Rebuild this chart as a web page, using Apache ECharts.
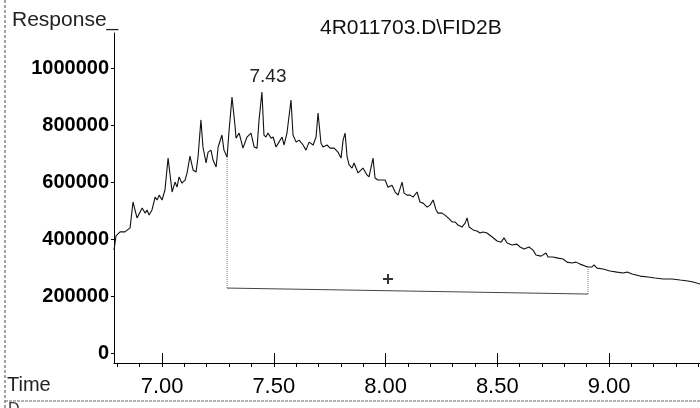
<!DOCTYPE html>
<html>
<head>
<meta charset="utf-8">
<script src="https://cdn.jsdelivr.net/npm/echarts@6/dist/echarts.min.js"></script>
<style>html,body{margin:0;padding:0;background:#fff}#c{width:700px;height:408px}</style>
</head>
<body>
<div id="c"></div>
<script>
// Retention time (min)
const times = [6.785,6.794,6.812,6.834,6.857,6.870,6.888,6.893,6.911,6.924,6.933,6.942,6.955,6.969,6.978,6.987,7.000,7.013,7.027,7.045,7.058,7.067,7.076,7.089,7.103,7.112,7.125,7.139,7.152,7.161,7.174,7.183,7.197,7.206,7.219,7.228,7.242,7.251,7.268,7.277,7.291,7.300,7.313,7.327,7.331,7.345,7.362,7.380,7.398,7.412,7.425,7.434,7.447,7.456,7.465,7.474,7.488,7.497,7.510,7.523,7.537,7.546,7.559,7.577,7.586,7.600,7.613,7.631,7.644,7.658,7.676,7.689,7.698,7.711,7.720,7.738,7.752,7.770,7.787,7.801,7.810,7.819,7.828,7.837,7.850,7.859,7.877,7.899,7.917,7.926,7.944,7.953,7.966,7.984,7.998,8.011,8.029,8.043,8.056,8.074,8.083,8.096,8.110,8.123,8.141,8.154,8.168,8.186,8.199,8.213,8.226,8.235,8.253,8.266,8.280,8.298,8.311,8.324,8.342,8.356,8.365,8.374,8.392,8.409,8.423,8.436,8.454,8.477,8.499,8.517,8.530,8.544,8.566,8.588,8.602,8.620,8.642,8.660,8.673,8.696,8.718,8.727,8.749,8.772,8.794,8.812,8.834,8.852,8.870,8.893,8.906,8.924,8.933,8.946,8.973,9.004,9.036,9.063,9.081,9.103,9.139,9.174,9.206,9.242,9.282,9.318,9.353,9.376,9.407];
// Detector response
const response = [361000,411000,425000,425000,439000,530000,474000,467000,509000,491000,502000,484000,502000,547000,537000,554000,537000,572000,684000,565000,600000,582000,618000,596000,607000,632000,691000,642000,635000,688000,818000,723000,667000,705000,712000,677000,653000,723000,765000,712000,688000,782000,898000,793000,754000,772000,719000,758000,772000,723000,719000,818000,916000,765000,758000,772000,754000,758000,723000,740000,758000,730000,772000,888000,765000,740000,747000,730000,712000,740000,730000,758000,842000,737000,723000,730000,719000,719000,705000,684000,747000,772000,688000,660000,649000,667000,632000,649000,625000,618000,684000,614000,607000,607000,607000,582000,589000,565000,554000,600000,561000,554000,554000,547000,565000,530000,526000,512000,519000,537000,502000,491000,491000,484000,474000,460000,460000,449000,442000,456000,474000,442000,432000,428000,421000,425000,421000,407000,393000,389000,404000,386000,379000,382000,372000,365000,372000,361000,344000,340000,351000,337000,337000,333000,330000,319000,316000,319000,312000,305000,302000,302000,309000,298000,295000,288000,284000,281000,284000,277000,270000,267000,263000,260000,260000,256000,253000,249000,242000];

// Integration baseline (drop lines + baseline)
const baseStart = [7.291, 688000];
const baseStartLow = [7.291, 228000];
const baseEndLow = [8.906, 207000];
const baseEnd = [8.906, 302000];

// Peak annotation
const peakTime = 7.447;
const peakValue = 916000;
const peakText = '7.43';

// Centroid marker
const plusPoint = [8.011, 260000];

// Axis ticks / labels
const xLabelValues = [7.0, 7.5, 8.0, 8.5, 9.0];
const xMinorTicks = [6.8,6.9,7.0,7.1,7.2,7.3,7.4,7.5,7.6,7.7,7.8,7.9,8.0,8.1,8.2,8.3,8.4,8.5,8.6,8.7,8.8,8.9,9.0,9.1,9.2,9.3,9.4];
const yLabelValues = [0, 200000, 400000, 600000, 800000, 1000000];

const titleText = '4R011703.D\\FID2B';
const yName = 'Response_';
const xName = 'Time';

const FONT = 'Liberation Sans, Arial, sans-serif';
const traceData = times.map((t, i) => [t, response[i]]);

const chart = echarts.init(document.getElementById('c'), null, {renderer: 'canvas'});
chart.setOption({
  animation: false,
  backgroundColor: '#fff',
  grid: {left: 114, right: 0, top: 33, bottom: 45, containLabel: false},
  xAxis: [{
    type: 'value', min: 6.785, max: 9.407, position: 'bottom',
    axisLine: {show: true, onZero: false, lineStyle: {color: '#000', width: 1}},
    axisTick: {show: true, customValues: xMinorTicks, length: 4, lineStyle: {color: '#000'}},
    axisLabel: {show: true, customValues: xLabelValues, margin: 13, fontSize: 22, color: '#000', fontFamily: FONT,
      formatter: v => v.toFixed(2)},
    splitLine: {show: false}
  }, {
    type: 'value', min: 6.785, max: 9.407, position: 'bottom', gridIndex: 0,
    axisLine: {show: false},
    axisTick: {show: true, customValues: xLabelValues, length: 10, lineStyle: {color: '#000'}},
    axisLabel: {show: false},
    splitLine: {show: false}
  }],
  yAxis: {
    type: 'value', min: -35000, max: 1123000,
    axisLine: {show: true, onZero: false, lineStyle: {color: '#000', width: 1}},
    axisTick: {show: true, customValues: yLabelValues, length: 3, lineStyle: {color: '#000'}},
    axisLabel: {show: true, customValues: yLabelValues, margin: 5, fontSize: 20, fontWeight: 'bold', color: '#000', fontFamily: FONT,
      formatter: v => String(Math.round(v))},
    splitLine: {show: false}
  },
  series: [{
    name: 'FID2B', type: 'line', data: traceData, symbol: 'none', smooth: false,
    lineStyle: {color: '#111', width: 1.1},
    markPoint: {
      symbol: 'circle', symbolSize: 0,
      data: [{coord: [peakTime, peakValue], value: peakText}],
      label: {show: true, position: 'top', distance: 6, offset: [6, 0], formatter: peakText,
        fontSize: 19, color: '#222', fontFamily: FONT}
    }
  }, {
    name: 'drop1', type: 'line', data: [baseStart, baseStartLow], symbol: 'none',
    lineStyle: {color: '#777', width: 1, type: [1, 1]}
  }, {
    name: 'baseline', type: 'line', data: [baseStartLow, baseEndLow], symbol: 'none',
    lineStyle: {color: '#444', width: 1}
  }, {
    name: 'drop2', type: 'line', data: [baseEndLow, baseEnd], symbol: 'none',
    lineStyle: {color: '#777', width: 1, type: [1, 1]}
  }, {
    name: 'plus', type: 'scatter', data: [plusPoint],
    symbol: 'path://M4,0H6V4H10V6H6V10H4V6H0V4H4Z', symbolSize: 10,
    itemStyle: {color: '#000'}
  }],
  graphic: [
    {type: 'text', left: 12, top: 10, style: {text: yName, fontSize: 21, fontFamily: FONT, fill: '#222'}},
    {type: 'text', left: 320, top: 18, style: {text: titleText, fontSize: 21, fontFamily: FONT, fill: '#111'}},
    {type: 'text', left: 7, top: 375, style: {text: xName, fontSize: 20, fontFamily: FONT, fill: '#222'}},
    {type: 'line', shape: {x1: 5, y1: 0, x2: 5, y2: 408}, style: {stroke: '#444', lineWidth: 1, lineDash: [3, 2]}},
    {type: 'line', shape: {x1: 5, y1: 401, x2: 700, y2: 401}, style: {stroke: '#666', lineWidth: 1, lineDash: [3, 1]}},
    {type: 'text', left: 8, top: 402, style: {text: 'D', fontSize: 16, fontFamily: FONT, fill: '#333'}}
  ]
});
</script>
</body>
</html>
